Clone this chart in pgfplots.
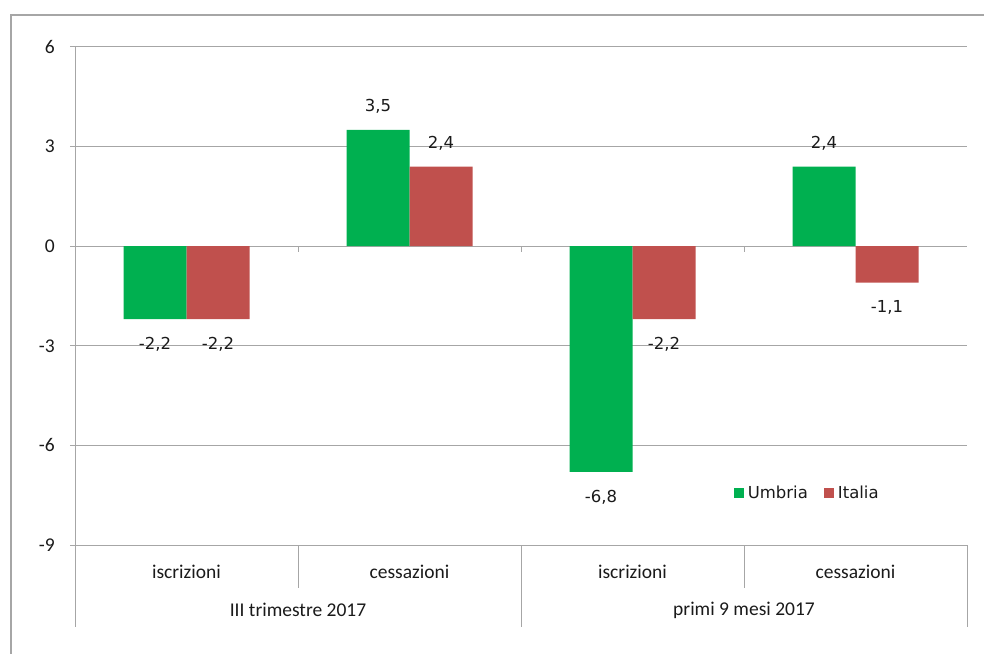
\documentclass[border=0pt]{standalone}
\usepackage{pgfplots}
\pgfplotsset{compat=1.18}
\usepackage{fontspec}
\setmainfont{Carlito}
\newfontfamily\dejavu{DejaVu Sans}
\definecolor{cgreen}{HTML}{00B050}
\definecolor{cred}{HTML}{C0504D}
\definecolor{gline}{HTML}{A6A6A6}
\definecolor{txt}{HTML}{1A1A1A}
\begin{document}
\begin{tikzpicture}[x=1pt,y=1pt]
\useasboundingbox (0,0) rectangle (984,653);
\draw[gline, line width=1.3pt] (11,-5) -- (11,638) -- (990,638);
\begin{axis}[
  at={(75pt,108pt)}, anchor=south west,
  scale only axis, width=892pt, height=498pt,
  xmin=-0.5, xmax=3.5, ymin=-9, ymax=6,
  ytick={-9,-6,-3,0,3,6},
  xtick=\empty,
  ytick pos=left,
  ymajorgrids, grid style={gline, line width=1pt},
  axis line style={draw=none},
  y tick style={gline, line width=1pt},
  tick align=outside, major tick length=5pt,
  /pgf/number format/assume math mode=true,
  yticklabel style={font=\fontsize{19.5}{20}\selectfont, text=txt, inner sep=0pt, xshift=-15pt},
  ybar=0pt, bar width=63pt,
  nodes near coords={\pgfmathprintnumber[fixed,fixed zerofill,precision=1,use comma,assume math mode=true]{\pgfplotspointmeta}},
  nodes near coords style={font=\dejavu\fontsize{16.5}{18}\selectfont, text=txt, inner ysep=18pt, text height=12pt, text depth=0pt},
  clip=false,
  legend style={at={(0.822,0.104)}, anchor=center, draw=none, fill=none,
    legend columns=2, font=\dejavu\fontsize{16.5}{18}\selectfont, text=txt,
    /tikz/every even column/.append style={column sep=12pt},
    nodes={inner ysep=2pt, inner xsep=4pt}},
  legend image code/.code={\fill[#1] (0pt,-5pt) rectangle (10pt,5pt);},
]
\addplot[fill=cgreen, draw=none] coordinates {(0,-2.2) (1,3.5) (2,-6.8) (3,2.4)};
\addplot[fill=cred, draw=none] coordinates {(0,-2.2) (1,2.4) (2,-2.2) (3,-1.1)};
\legend{Umbria, Italia}
% axis lines and category separators
\draw[gline, line width=1pt] (axis cs:-0.5,6) -- ([yshift=-82pt]axis cs:-0.5,-9);
\draw[gline, line width=1pt] (axis cs:3.5,-9) -- ([yshift=-82pt]axis cs:3.5,-9);
\draw[gline, line width=1pt] (axis cs:1.5,-9) -- ([yshift=-82pt]axis cs:1.5,-9);
\draw[gline, line width=1pt] (axis cs:0.5,-9) -- ([yshift=-43pt]axis cs:0.5,-9);
\draw[gline, line width=1pt] (axis cs:2.5,-9) -- ([yshift=-43pt]axis cs:2.5,-9);
\draw[gline, line width=1pt] (axis cs:0.5,0) -- ([yshift=-6pt]axis cs:0.5,0);
\draw[gline, line width=1pt] (axis cs:1.5,0) -- ([yshift=-6pt]axis cs:1.5,0);
\draw[gline, line width=1pt] (axis cs:2.5,0) -- ([yshift=-6pt]axis cs:2.5,0);
% category labels
\node[font=\fontsize{19.5}{20}\selectfont, text=txt, yshift=-27pt] at (axis cs:0,-9) {iscrizioni};
\node[font=\fontsize{19.5}{20}\selectfont, text=txt, yshift=-27pt] at (axis cs:1,-9) {cessazioni};
\node[font=\fontsize{19.5}{20}\selectfont, text=txt, yshift=-27pt] at (axis cs:2,-9) {iscrizioni};
\node[font=\fontsize{19.5}{20}\selectfont, text=txt, yshift=-27pt] at (axis cs:3,-9) {cessazioni};
\node[font=\fontsize{19.5}{20}\selectfont, text=txt, yshift=-65pt] at (axis cs:0.5,-9) {III trimestre 2017};
\node[font=\fontsize{19.5}{20}\selectfont, text=txt, yshift=-65pt] at (axis cs:2.5,-9) {primi 9 mesi 2017};
\end{axis}
\end{tikzpicture}
\end{document}
